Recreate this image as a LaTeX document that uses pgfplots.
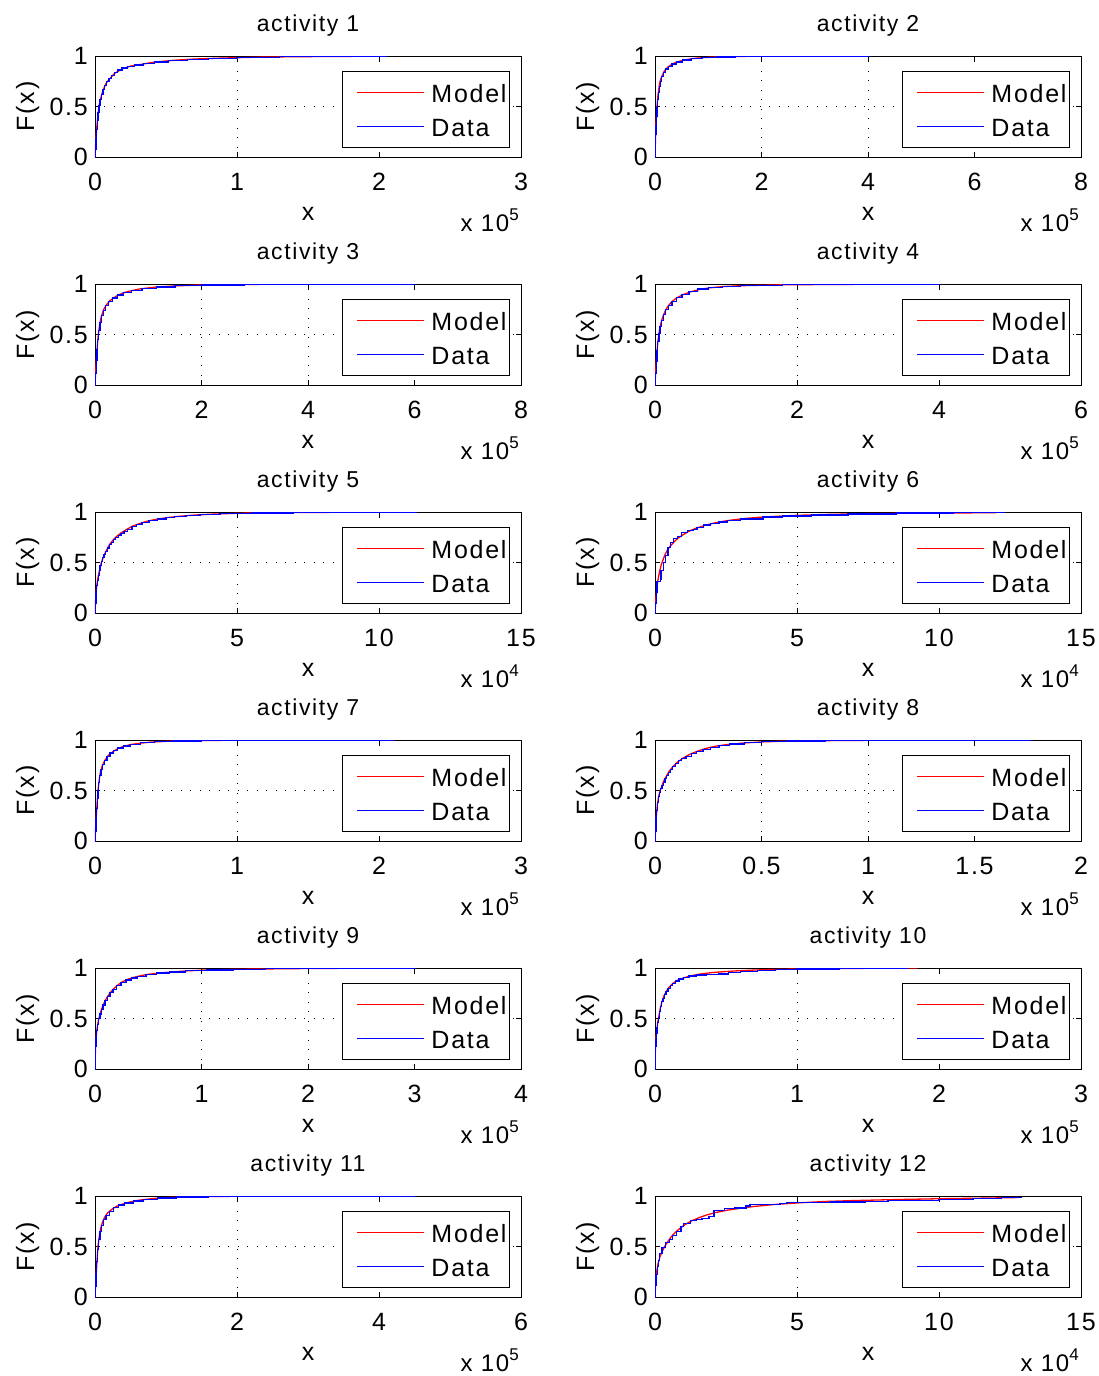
\documentclass[border=0pt]{standalone}
\usepackage{fontspec}
\setmainfont{Liberation Sans}[LetterSpace=7]
\usepackage{pgfplots}
\pgfplotsset{compat=1.18}
\definecolor{mred}{rgb}{1,0,0}
\definecolor{mblue}{rgb}{0,0,1}
\pgfplotsset{
 cdf/.style={
  scale only axis, width=426pt, height=101pt,
  xmin=0, ymin=0, ymax=1,
  scaled x ticks=false, scaled y ticks=false,
  ytick={0,0.5,1}, yticklabels={0,0.5,1},
  tick align=inside, major tick length=5pt,
  every tick/.style={black, line width=0.9pt},
  axis line style={line width=0.9pt},
  grid=major,
  major grid style={black, line width=0.8pt, dash pattern=on 0.9pt off 8.6pt},
  tick label style={font=\fontsize{25}{25}\selectfont, inner sep=0pt},
  yticklabel style={anchor=east, xshift=-7pt},
  xticklabel style={anchor=north, yshift=-16pt},
  title style={at={(0.5,1)}, anchor=base, yshift=19pt, font=\fontsize{23}{23}\selectfont, inner sep=0pt},
  xlabel={x},
  xlabel style={at={(axis description cs:0.5,0)}, anchor=base, yshift=-63pt, font=\fontsize{25}{25}\selectfont, inner sep=0pt},
  ylabel={F(x)},
  ylabel style={at={(axis description cs:-0.158,0.5)}, anchor=center, font=\fontsize{25}{25}\selectfont, inner sep=0pt},
  legend style={at={(1,1)}, anchor=north east, xshift=-11pt, yshift=-15pt, draw=black, line width=0.9pt, inner xsep=3pt, inner ysep=4pt, font=\fontsize{25}{25}\selectfont, cells={anchor=west}, nodes={inner sep=0pt, text height=27pt, text depth=7pt}, row sep=0pt, /tikz/every odd column/.style={column sep=7pt}},
  legend image code/.code={\draw[draw=none] (0pt,0pt) -- (11pt,0pt); \draw[#1] (11pt,0pt) -- (78pt,0pt);},
 },
 model/.style={mred, line width=1.3pt},
 data/.style={mblue, line width=1.3pt, const plot},
 sx3/.style={xmax=300000, xtick={0,100000,200000,300000}, xticklabels={0,1,2,3}},
 sx8/.style={xmax=800000, xtick={0,200000,400000,600000,800000}, xticklabels={0,2,4,6,8}},
 sx6/.style={xmax=600000, xtick={0,200000,400000,600000}, xticklabels={0,2,4,6}},
 sx15/.style={xmax=150000, xtick={0,50000,100000,150000}, xticklabels={0,5,10,15}},
 sx2/.style={xmax=200000, xtick={0,50000,100000,150000,200000}, xticklabels={0,0.5,1,1.5,2}},
 sx4/.style={xmax=400000, xtick={0,100000,200000,300000,400000}, xticklabels={0,1,2,3,4}},
}
\newcommand{\scl}[2]{\node[anchor=base east, font=\fontsize{24}{24}\selectfont, inner sep=0pt] at ([xshift=-2pt,yshift=-74pt]#1.south east) {x 10\raisebox{11pt}{\fontsize{17}{17}\selectfont #2}};}
\begin{document}
\begin{tikzpicture}
\useasboundingbox (0,0) rectangle (1099pt,-1376pt);
% ---------- activity 1
\begin{axis}[cdf, sx3, name=p1, at={(95pt,-157pt)}, anchor=south west, title={activity 1}]
\addplot[model] coordinates {(0,0)(500,0.13)(1000,0.25)(1800,0.38)(2800,0.5)(4000,0.58)(5600,0.66)(7800,0.73)(10300,0.775)(14000,0.83)(19700,0.875)(25000,0.9)(31500,0.915)(42000,0.94)(55000,0.957)(70000,0.97)(90000,0.98)(120000,0.99)(160000,0.995)(200000,0.998)};
\addplot[data] coordinates {(0,0)(300,0.08)(700,0.18)(1100,0.27)(1600,0.36)(2200,0.44)(2800,0.51)(3600,0.57)(4600,0.62)(5600,0.67)(6800,0.71)(8200,0.745)(9800,0.78)(11500,0.81)(13500,0.835)(16000,0.86)(19000,0.88)(23000,0.895)(28000,0.91)(34000,0.925)(42000,0.94)(52000,0.955)(65000,0.968)(80000,0.978)(100000,0.987)(130000,0.993)(170000,0.997)(205000,1)};
\legend{Model,Data}
\end{axis}
\scl{p1}{5}
% ---------- activity 2
\begin{axis}[cdf, sx8, name=p2, at={(655pt,-157pt)}, anchor=south west, title={activity 2}]
\addplot[model] coordinates {(0,0)(600,0.12)(1250,0.235)(2400,0.38)(3750,0.5)(5500,0.61)(7500,0.69)(10000,0.76)(13750,0.81)(18000,0.855)(24000,0.89)(31000,0.915)(40000,0.94)(55000,0.96)(71000,0.975)(90000,0.984)(115000,0.99)(150000,0.995)(190000,0.998)(260000,0.999)(400000,1)};
\addplot[data] coordinates {(0,0)(500,0.1)(1100,0.22)(1800,0.31)(2600,0.4)(3600,0.49)(4800,0.57)(6200,0.64)(7800,0.7)(9800,0.75)(12500,0.8)(16000,0.84)(20000,0.87)(25000,0.895)(32000,0.92)(40000,0.94)(52000,0.96)(68000,0.975)(88000,0.985)(115000,0.991)(150000,0.995)(200000,0.998)(400000,1)};
\legend{Model,Data}
\end{axis}
\scl{p2}{5}
% ---------- activity 3
\begin{axis}[cdf, sx8, name=p3, at={(95pt,-385pt)}, anchor=south west, title={activity 3}]
\addplot[model] coordinates {(0,0)(1200,0.13)(2500,0.25)(4200,0.38)(6250,0.5)(8800,0.6)(11900,0.68)(16000,0.745)(21000,0.79)(28000,0.835)(40000,0.88)(52000,0.91)(65000,0.93)(85000,0.952)(115000,0.97)(150000,0.981)(196000,0.99)(260000,0.995)(350000,0.998)(450000,0.999)(600000,1)};
\addplot[data] coordinates {(0,0)(1000,0.12)(2200,0.24)(3600,0.35)(5200,0.45)(7000,0.54)(9200,0.62)(12000,0.685)(15500,0.74)(20000,0.785)(26000,0.83)(33000,0.86)(42000,0.89)(54000,0.915)(68000,0.935)(88000,0.955)(115000,0.97)(150000,0.982)(200000,0.99)(280000,0.996)(400000,0.999)(600000,1)};
\legend{Model,Data}
\end{axis}
\scl{p3}{5}
% ---------- activity 4
\begin{axis}[cdf, sx6, name=p4, at={(655pt,-385pt)}, anchor=south west, title={activity 4}]
\addplot[model] coordinates {(0,0)(900,0.13)(1900,0.25)(3000,0.35)(4200,0.44)(6600,0.56)(9000,0.63)(11300,0.68)(14500,0.735)(18300,0.78)(23000,0.82)(30000,0.86)(38000,0.89)(49000,0.92)(62000,0.945)(77000,0.962)(95000,0.974)(120000,0.983)(180000,0.992)(260000,0.996)(330000,0.998)(400000,1)};
\addplot[data] coordinates {(0,0)(800,0.12)(1700,0.23)(2800,0.34)(4000,0.43)(5500,0.51)(7200,0.58)(9200,0.64)(11800,0.695)(15000,0.745)(19000,0.79)(24000,0.83)(30000,0.865)(38000,0.895)(48000,0.925)(60000,0.95)(75000,0.965)(95000,0.975)(120000,0.984)(180000,0.992)(260000,0.996)(400000,1)};
\legend{Model,Data}
\end{axis}
\scl{p4}{5}
% ---------- activity 5
\begin{axis}[cdf, sx15, name=p5, at={(95pt,-613pt)}, anchor=south west, title={activity 5}]
\addplot[model] coordinates {(0,0)(200,0.12)(470,0.235)(900,0.33)(1400,0.4)(2230,0.5)(3400,0.585)(4200,0.63)(5160,0.68)(6300,0.72)(7500,0.755)(9000,0.79)(11000,0.825)(13200,0.86)(15700,0.885)(18500,0.91)(21600,0.928)(25500,0.945)(29800,0.958)(35000,0.97)(42000,0.98)(51000,0.988)(65000,0.994)(85000,0.997)(113000,1)};
\addplot[data] coordinates {(0,0)(150,0.1)(350,0.2)(600,0.27)(900,0.32)(1200,0.37)(1500,0.42)(1800,0.47)(2200,0.51)(2700,0.55)(3200,0.58)(3800,0.61)(4400,0.645)(5000,0.68)(5800,0.7)(6500,0.73)(7300,0.75)(8200,0.77)(9200,0.79)(10200,0.81)(11500,0.83)(13000,0.855)(14500,0.875)(16500,0.895)(19000,0.915)(22000,0.93)(25000,0.945)(28000,0.955)(32000,0.967)(37000,0.977)(44000,0.985)(55000,0.991)(70000,0.995)(90000,0.998)(113000,1)};
\legend{Model,Data}
\end{axis}
\scl{p5}{4}
% ---------- activity 6
\begin{axis}[cdf, sx15, name=p6, at={(655pt,-613pt)}, anchor=south west, title={activity 6}]
\addplot[model] coordinates {(0,0)(300,0.14)(700,0.26)(1060,0.33)(1600,0.41)(2230,0.48)(3400,0.57)(4200,0.615)(5160,0.655)(6900,0.71)(8300,0.745)(9900,0.775)(12000,0.81)(14500,0.84)(17300,0.865)(20400,0.888)(24000,0.908)(27500,0.922)(32000,0.937)(36900,0.948)(43000,0.958)(49800,0.967)(60000,0.976)(75000,0.984)(95000,0.989)(120000,0.993)};
\addplot[data] coordinates {(0,0)(200,0.1)(450,0.2)(700,0.31)(1900,0.33)(2100,0.42)(3000,0.5)(3700,0.57)(4600,0.65)(5400,0.7)(6500,0.74)(8000,0.76)(9300,0.8)(11500,0.815)(13500,0.83)(14800,0.85)(17000,0.87)(19500,0.885)(22500,0.9)(25500,0.915)(30000,0.93)(38000,0.95)(45000,0.96)(55000,0.97)(68000,0.98)(85000,0.99)(105000,0.995)(123000,1)};
\legend{Model,Data}
\end{axis}
\scl{p6}{4}
% ---------- activity 7
\begin{axis}[cdf, sx3, name=p7, at={(95pt,-841pt)}, anchor=south west, title={activity 7}]
\addplot[model] coordinates {(0,0)(450,0.13)(940,0.25)(1500,0.38)(2100,0.5)(2900,0.6)(3750,0.675)(5000,0.74)(6800,0.795)(9500,0.85)(12700,0.885)(16000,0.915)(19700,0.935)(25000,0.955)(31500,0.968)(40000,0.98)(55000,0.99)(75000,0.995)(100000,0.998)(150000,0.999)(210000,1)};
\addplot[data] coordinates {(0,0)(300,0.1)(700,0.22)(1100,0.32)(1600,0.42)(2100,0.5)(2700,0.58)(3400,0.65)(4300,0.71)(5400,0.76)(6800,0.8)(8500,0.84)(10500,0.87)(13000,0.895)(16000,0.92)(20000,0.94)(25000,0.958)(32000,0.972)(42000,0.983)(55000,0.99)(75000,0.995)(100000,0.998)(210000,1)};
\legend{Model,Data}
\end{axis}
\scl{p7}{5}
% ---------- activity 8
\begin{axis}[cdf, sx2, name=p8, at={(655pt,-841pt)}, anchor=south west, title={activity 8}]
\addplot[model] coordinates {(0,0)(300,0.14)(625,0.25)(1100,0.36)(1700,0.44)(2300,0.49)(3000,0.53)(4000,0.59)(5300,0.64)(6800,0.695)(8400,0.735)(10500,0.78)(13100,0.82)(16000,0.855)(19400,0.885)(23500,0.915)(28700,0.94)(34000,0.955)(41200,0.97)(50000,0.981)(60000,0.988)(75000,0.993)(100000,0.997)(140000,0.999)(176000,1)};
\addplot[data] coordinates {(0,0)(200,0.1)(500,0.23)(800,0.3)(1200,0.38)(1600,0.44)(2200,0.48)(2700,0.52)(3300,0.55)(4000,0.58)(4700,0.62)(5500,0.65)(6300,0.68)(7200,0.71)(8300,0.74)(9500,0.77)(11000,0.795)(12500,0.815)(14500,0.84)(17000,0.865)(19500,0.885)(22500,0.905)(26000,0.925)(30000,0.945)(35000,0.96)(42000,0.972)(50000,0.982)(62000,0.99)(80000,0.995)(105000,0.998)(176000,1)};
\legend{Model,Data}
\end{axis}
\scl{p8}{5}
% ---------- activity 9
\begin{axis}[cdf, sx4, name=p9, at={(95pt,-1069pt)}, anchor=south west, title={activity 9}]
\addplot[model] coordinates {(0,0)(250,0.13)(625,0.235)(1200,0.33)(1900,0.4)(3000,0.47)(4400,0.53)(5900,0.585)(7500,0.63)(9700,0.68)(12200,0.725)(15800,0.775)(20000,0.82)(25000,0.86)(31000,0.89)(38000,0.912)(48000,0.935)(60000,0.95)(73000,0.962)(87000,0.972)(101000,0.979)(125000,0.986)(151000,0.99)(200000,0.995)(250000,0.998)(300000,1)};
\addplot[data] coordinates {(0,0)(200,0.11)(500,0.22)(1000,0.31)(1600,0.38)(2400,0.44)(3400,0.5)(4600,0.545)(6000,0.59)(7600,0.635)(9400,0.675)(11500,0.715)(14000,0.755)(17000,0.79)(20500,0.825)(24500,0.855)(29000,0.88)(34000,0.9)(40000,0.918)(48000,0.935)(58000,0.95)(70000,0.962)(85000,0.973)(105000,0.981)(130000,0.988)(160000,0.992)(210000,0.996)(300000,1)};
\legend{Model,Data}
\end{axis}
\scl{p9}{5}
% ---------- activity 10
\begin{axis}[cdf, sx3, name=p10, at={(655pt,-1069pt)}, anchor=south west, title={activity 10}]
\addplot[model] coordinates {(0,0)(200,0.15)(470,0.27)(900,0.34)(1400,0.4)(2000,0.47)(2800,0.53)(3700,0.6)(4700,0.655)(6200,0.72)(8000,0.77)(10200,0.815)(12700,0.85)(16000,0.88)(19700,0.9)(25000,0.922)(31500,0.94)(40000,0.955)(55000,0.97)(70000,0.98)(90000,0.988)(120000,0.994)(150000,0.997)(185000,1)};
\addplot[data] coordinates {(0,0)(150,0.1)(350,0.22)(600,0.29)(1000,0.35)(1400,0.41)(1900,0.46)(2500,0.51)(3200,0.57)(3900,0.62)(4700,0.665)(5600,0.7)(6600,0.735)(7800,0.77)(9200,0.8)(10800,0.825)(12500,0.85)(14500,0.87)(17000,0.89)(20000,0.905)(24000,0.92)(29000,0.93)(36000,0.935)(45000,0.94)(52000,0.955)(60000,0.965)(72000,0.975)(85000,0.985)(100000,0.99)(130000,0.995)(178000,1)};
\legend{Model,Data}
\end{axis}
\scl{p10}{5}
% ---------- activity 11
\begin{axis}[cdf, sx6, name=p11, at={(95pt,-1297pt)}, anchor=south west, title={activity 11}]
\addplot[model] coordinates {(0,0)(900,0.13)(1900,0.25)(3000,0.38)(4200,0.5)(6000,0.6)(8000,0.68)(10500,0.74)(13600,0.79)(18000,0.835)(25000,0.875)(31000,0.9)(39000,0.92)(50000,0.942)(63000,0.96)(85000,0.977)(110000,0.988)(150000,0.995)(220000,0.998)(320000,0.999)(450000,1)};
\addplot[data] coordinates {(0,0)(700,0.11)(1600,0.23)(2600,0.35)(3800,0.47)(5200,0.57)(7000,0.65)(9200,0.71)(12000,0.765)(15500,0.81)(20000,0.85)(26000,0.885)(33000,0.91)(42000,0.93)(54000,0.952)(68000,0.967)(88000,0.98)(115000,0.989)(160000,0.995)(240000,0.998)(450000,1)};
\legend{Model,Data}
\end{axis}
\scl{p11}{5}
% ---------- activity 12
\begin{axis}[cdf, sx15, name=p12, at={(655pt,-1297pt)}, anchor=south west, title={activity 12}]
\addplot[model] coordinates {(0,0)(200,0.12)(470,0.23)(1000,0.32)(1640,0.39)(2500,0.45)(3400,0.5)(4200,0.535)(5160,0.575)(6200,0.612)(7500,0.65)(9200,0.69)(11000,0.725)(13200,0.758)(15700,0.788)(18500,0.815)(21600,0.838)(25500,0.86)(29800,0.878)(35000,0.897)(42000,0.916)(51000,0.933)(60000,0.946)(70000,0.955)(85000,0.965)(100000,0.973)(115000,0.979)(128000,0.985)};
\addplot[data] coordinates {(0,0)(150,0.12)(400,0.22)(800,0.3)(1200,0.36)(1700,0.43)(2500,0.49)(3800,0.54)(5200,0.57)(6200,0.61)(7500,0.65)(9200,0.7)(10000,0.73)(12500,0.755)(14500,0.77)(16500,0.78)(19000,0.8)(20800,0.86)(24500,0.875)(28000,0.88)(32000,0.9)(33500,0.915)(44000,0.925)(46500,0.935)(62000,0.94)(74000,0.945)(82000,0.958)(100000,0.965)(112000,0.975)(122000,0.985)(129000,0.99)};
\legend{Model,Data}
\end{axis}
\scl{p12}{4}
\end{tikzpicture}
\end{document}
